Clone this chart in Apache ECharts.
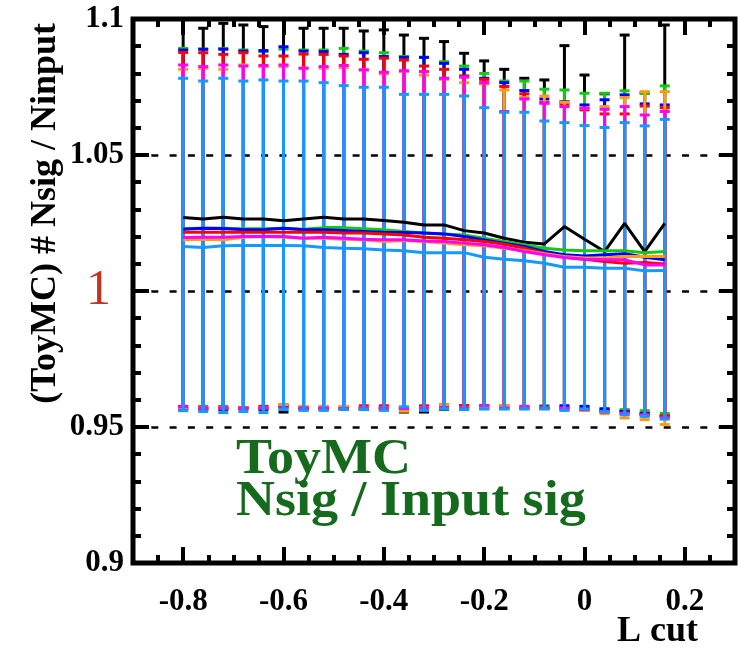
<!DOCTYPE html>
<html>
<head>
<meta charset="utf-8">
<script src="https://cdn.jsdelivr.net/npm/echarts@6/dist/echarts.min.js"></script>
<style>html,body{margin:0;padding:0;background:#fff}#c{width:739px;height:649px}</style>
</head>
<body>
<div id="c"></div>
<script>
// L cut values
const xs = [-0.80,-0.76,-0.72,-0.68,-0.64,-0.60,-0.56,-0.52,-0.48,-0.44,-0.40,-0.36,-0.32,-0.28,-0.24,-0.20,-0.16,-0.12,-0.08,-0.04,0.00,0.04,0.08,0.12,0.16];

const blackC  = [1.0270,1.0265,1.0271,1.0265,1.0265,1.0258,1.0265,1.0271,1.0265,1.0265,1.0259,1.0253,1.0243,1.0243,1.0222,1.0213,1.0194,1.0179,1.0173,1.0237,1.0190,1.0145,1.0249,1.0145,1.0249];
const blackHi = [1.1040,1.0966,1.0984,1.0978,1.0972,1.1010,1.0966,1.0966,1.0966,1.0956,1.0960,1.0941,1.0929,1.0917,1.0874,1.0846,1.0815,1.0782,1.0776,1.0902,1.0794,1.0725,1.0941,1.0728,1.0978];
const blackLo = [0.9565,0.9565,0.9565,0.9568,0.9565,0.9555,0.9565,0.9565,0.9565,0.9565,0.9565,0.9555,0.9555,0.9565,0.9565,0.9568,0.9568,0.9568,0.9568,0.9568,0.9566,0.9560,0.9560,0.9550,0.9542];

const greenC  = [1.0230,1.0231,1.0231,1.0229,1.0229,1.0231,1.0227,1.0233,1.0233,1.0229,1.0225,1.0219,1.0213,1.0210,1.0206,1.0194,1.0182,1.0170,1.0157,1.0151,1.0148,1.0148,1.0148,1.0141,1.0145];
const greenHi = [1.0892,1.0889,1.0891,1.0886,1.0880,1.0889,1.0886,1.0886,1.0892,1.0882,1.0876,1.0862,1.0859,1.0843,1.0827,1.0800,1.0772,1.0772,1.0742,1.0739,1.0727,1.0727,1.0736,1.0727,1.0754];
const greenLo = [0.9572,0.9576,0.9576,0.9570,0.9572,0.9572,0.9572,0.9572,0.9572,0.9572,0.9572,0.9572,0.9572,0.9572,0.9572,0.9574,0.9574,0.9574,0.9578,0.9572,0.9572,0.9568,0.9564,0.9560,0.9550];

const blueC  = [1.0227,1.0231,1.0230,1.0225,1.0225,1.0231,1.0225,1.0225,1.0222,1.0219,1.0216,1.0215,1.0213,1.0210,1.0200,1.0188,1.0176,1.0164,1.0145,1.0133,1.0129,1.0133,1.0137,1.0124,1.0115];
const blueHi = [1.0886,1.0889,1.0889,1.0882,1.0884,1.0898,1.0882,1.0880,1.0870,1.0876,1.0862,1.0859,1.0859,1.0837,1.0815,1.0782,1.0766,1.0737,1.0706,1.0696,1.0684,1.0703,1.0721,1.0688,1.0684];
const blueLo = [0.9568,0.9568,0.9568,0.9570,0.9568,0.9576,0.9568,0.9568,0.9568,0.9568,0.9568,0.9568,0.9568,0.9570,0.9578,0.9578,0.9570,0.9570,0.9574,0.9578,0.9576,0.9566,0.9557,0.9550,0.9539];

const redC  = [1.0216,1.0216,1.0216,1.0216,1.0216,1.0216,1.0216,1.0216,1.0213,1.0213,1.0210,1.0206,1.0198,1.0194,1.0188,1.0182,1.0172,1.0157,1.0139,1.0124,1.0117,1.0108,1.0102,1.0105,1.0099];
const redHi = [1.0877,1.0876,1.0870,1.0876,1.0864,1.0864,1.0871,1.0870,1.0864,1.0852,1.0856,1.0849,1.0827,1.0815,1.0791,1.0778,1.0752,1.0725,1.0693,1.0687,1.0666,1.0651,1.0651,1.0680,1.0674];
const redLo = [0.9576,0.9572,0.9572,0.9572,0.9576,0.9582,0.9572,0.9572,0.9572,0.9578,0.9578,0.9572,0.9578,0.9582,0.9578,0.9572,0.9578,0.9570,0.9568,0.9566,0.9562,0.9555,0.9550,0.9545,0.9540];

const orangeC  = [1.0188,1.0190,1.0188,1.0198,1.0200,1.0198,1.0194,1.0194,1.0190,1.0188,1.0182,1.0186,1.0182,1.0176,1.0170,1.0166,1.0157,1.0149,1.0137,1.0127,1.0121,1.0121,1.0127,1.0127,1.0127];
const orangeHi = [1.0815,1.0819,1.0815,1.0831,1.0825,1.0825,1.0819,1.0819,1.0821,1.0813,1.0798,1.0807,1.0794,1.0778,1.0766,1.0761,1.0739,1.0711,1.0717,1.0694,1.0672,1.0678,1.0711,1.0733,1.0733];
const orangeLo = [0.9570,0.9570,0.9570,0.9570,0.9570,0.9582,0.9576,0.9576,0.9576,0.9570,0.9570,0.9558,0.9570,0.9582,0.9570,0.9570,0.9578,0.9570,0.9570,0.9568,0.9561,0.9549,0.9533,0.9527,0.9509];

const magentaC  = [1.0197,1.0198,1.0198,1.0200,1.0200,1.0200,1.0194,1.0198,1.0194,1.0190,1.0188,1.0188,1.0184,1.0182,1.0176,1.0170,1.0160,1.0145,1.0133,1.0123,1.0117,1.0115,1.0115,1.0096,1.0096];
const magentaHi = [1.0831,1.0825,1.0831,1.0827,1.0829,1.0831,1.0819,1.0825,1.0829,1.0813,1.0804,1.0810,1.0807,1.0782,1.0786,1.0766,1.0660,1.0706,1.0690,1.0678,1.0672,1.0668,1.0678,1.0647,1.0660];
const magentaLo = [0.9574,0.9570,0.9570,0.9568,0.9570,0.9570,0.9570,0.9570,0.9568,0.9570,0.9570,0.9568,0.9570,0.9570,0.9570,0.9578,0.9570,0.9576,0.9568,0.9570,0.9564,0.9555,0.9551,0.9545,0.9535];

const azureC  = [1.0164,1.0160,1.0166,1.0167,1.0167,1.0167,1.0166,1.0160,1.0157,1.0155,1.0151,1.0148,1.0141,1.0141,1.0141,1.0124,1.0117,1.0111,1.0102,1.0087,1.0087,1.0084,1.0084,1.0074,1.0075];
const azureHi = [1.0782,1.0772,1.0782,1.0772,1.0776,1.0772,1.0772,1.0766,1.0755,1.0749,1.0749,1.0723,1.0723,1.0723,1.0717,1.0674,1.0657,1.0657,1.0625,1.0619,1.0608,1.0601,1.0619,1.0607,1.0631];
const azureLo = [0.9560,0.9557,0.9553,0.9557,0.9553,0.9564,0.9561,0.9561,0.9564,0.9564,0.9561,0.9574,0.9561,0.9566,0.9564,0.9566,0.9566,0.9566,0.9566,0.9561,0.9566,0.9557,0.9545,0.9539,0.9529];

const xTickLabels = [-0.8,-0.6,-0.4,-0.2,0,0.2];
const yTitle = '(ToyMC) # Nsig / Ninput';
const xTitle = 'L cut';
const noteLines = ['ToyMC', 'Nsig / Input sig'];

const groups = [
  {color:'#000000', c:blackC,   hi:blackHi,   lo:blackLo},
  {color:'#14c814', c:greenC,   hi:greenHi,   lo:greenLo},
  {color:'#0000ff', c:blueC,    hi:blueHi,    lo:blueLo},
  {color:'#ff0000', c:redC,     hi:redHi,     lo:redLo},
  {color:'#ff9c14', c:orangeC,  hi:orangeHi,  lo:orangeLo},
  {color:'#ff00ff', c:magentaC, hi:magentaHi, lo:magentaLo},
  {color:'#1499ff', c:azureC,   hi:azureHi,   lo:azureLo}
];

const FONT = '"Liberation Serif", "Times New Roman", serif';

function renderErr(params, api) {
  const x = api.value(0), lo = api.value(1), hi = api.value(2);
  const pHi = api.coord([x, hi]);
  const pLo = api.coord([x, lo]);
  const color = api.visual('color');
  const cw = 5;
  const st = {stroke: color, lineWidth: 3};
  return {type: 'group', children: [
    {type: 'line', shape: {x1: pHi[0], y1: pHi[1], x2: pLo[0], y2: pLo[1]}, style: st},
    {type: 'line', shape: {x1: pHi[0]-cw, y1: pHi[1], x2: pHi[0]+cw, y2: pHi[1]}, style: st},
    {type: 'line', shape: {x1: pLo[0]-cw, y1: pLo[1], x2: pLo[0]+cw, y2: pLo[1]}, style: st}
  ]};
}

const series = [];
groups.forEach(g => {
  series.push({
    type: 'custom', renderItem: renderErr, clip: true,
    itemStyle: {color: g.color},
    encode: {x: 0, y: [1, 2]},
    data: xs.map((x, i) => [x, g.lo[i], g.hi[i]]),
    z: 3
  });
  series.push({
    type: 'line', symbol: 'none', clip: true,
    lineStyle: {color: g.color, width: 3},
    data: xs.map((x, i) => [x, g.c[i]]),
    z: 3
  });
});

function xLabel(v) {
  const k = Math.round(v * 20);
  if (k % 4 !== 0) return '';
  const r = Math.round(v * 10) / 10;
  return String(r === 0 ? 0 : r);
}

const tickStyle = {color: '#000', width: 4};
function xAx(pos, minor, labels) {
  const ax = {
    type: 'value', min: -0.9, max: 0.3, interval: 0.05, position: pos,
    axisLine: {show: false, onZero: false}, splitLine: {show: false},
    axisTick: {show: true, inside: true, length: minor ? 8 : 16, lineStyle: tickStyle},
    axisLabel: {show: false}
  };
  if (!minor) ax.axisTick.customValues = xTickLabels;
  if (labels) {
    ax.axisLabel = {show: true, formatter: xLabel, margin: 23, color: '#000',
      fontFamily: FONT, fontWeight: 'bold', fontSize: 31};
  }
  return ax;
}

const option = {
  animation: false,
  backgroundColor: '#ffffff',
  grid: {left: 133, right: 4, top: 19, bottom: 86, show: true, borderColor: '#000', borderWidth: 5, backgroundColor: 'transparent'},
  xAxis: [xAx('bottom', true, true), xAx('bottom', false, false), xAx('top', true, false), xAx('top', false, false)],
  yAxis: [
    {type: 'value', min: 0.9, max: 1.1, interval: 0.05, position: 'left',
     axisLine: {show: false, onZero: false},
     axisTick: {show: true, inside: true, length: 16, lineStyle: tickStyle},
     minorTick: {show: true, splitNumber: 5, length: 8, lineStyle: tickStyle},
     splitLine: {show: true, lineStyle: {color: '#000', width: 2.5, type: [7, 11.3], dashOffset: 0}},
     axisLabel: {
       margin: 9, color: '#000', fontFamily: FONT, fontWeight: 'bold', fontSize: 31,
       formatter: v => Math.abs(v - 1) < 1e-9 ? '{r|1}' : String(+v.toFixed(2)),
       rich: {r: {fontSize: 50, fontWeight: 'normal', fontFamily: FONT, color: '#c43320', padding: [0, 13, 0, 0]}}
     }},
    {type: 'value', min: 0.9, max: 1.1, interval: 0.05, position: 'right',
     axisLine: {show: false, onZero: false}, splitLine: {show: false}, axisLabel: {show: false},
     axisTick: {show: true, inside: true, length: 16, lineStyle: tickStyle},
     minorTick: {show: true, splitNumber: 5, length: 8, lineStyle: tickStyle}}
  ],
  graphic: [
    {type: 'text', x: 46, y: 23, rotation: Math.PI / 2, z: 10,
     style: {text: yTitle, font: 'bold 36px ' + FONT, fill: '#000', align: 'right', verticalAlign: 'middle', textAlign: 'right', textVerticalAlign: 'middle'}},
    {type: 'text', x: 698, y: 632, z: 10,
     style: {text: xTitle, font: 'bold 36px ' + FONT, fill: '#000', align: 'right', verticalAlign: 'middle', textAlign: 'right', textVerticalAlign: 'middle'}},
    {type: 'text', x: 236, y: 485.5, scaleX: 1.08, z: 10,
     style: {text: noteLines[0], font: 'bold 50px ' + FONT, fill: '#166a1e', align: 'left', verticalAlign: 'bottom', textAlign: 'left', textVerticalAlign: 'bottom'}},
    {type: 'text', x: 236, y: 527.5, scaleX: 1.08, z: 10,
     style: {text: noteLines[1], font: 'bold 50px ' + FONT, fill: '#166a1e', align: 'left', verticalAlign: 'bottom', textAlign: 'left', textVerticalAlign: 'bottom'}}
  ],
  series: series
};

const chart = echarts.init(document.getElementById('c'), null, {renderer: 'canvas'});
chart.setOption(option);
</script>
</body>
</html>
